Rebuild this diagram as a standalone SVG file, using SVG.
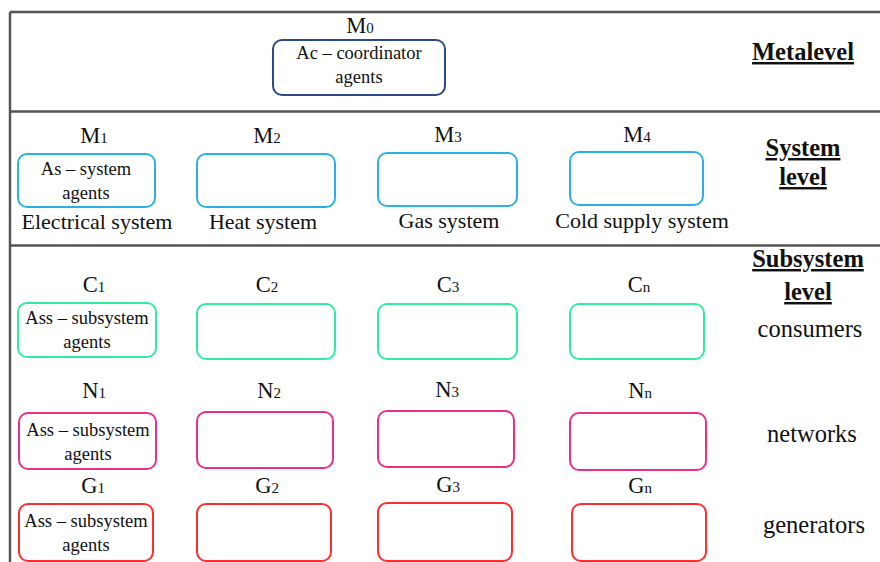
<svg xmlns="http://www.w3.org/2000/svg" width="880" height="562" viewBox="0 0 880 562">
<style>
text{fill:#111;text-anchor:middle}
.lbl{font-size:22.5px}
.sub{font-size:15px}
.bt{font-size:18.5px}
.rl{font-size:22px}
.hd{font-size:24.5px;font-weight:bold;text-decoration:underline}
.side{font-size:24.5px}
.frame{stroke:#555;stroke-width:2.5;fill:none}
rect{fill:#fff;stroke-width:2}
.mb{stroke:#2b4a86}
.sb{stroke:#2eaee6}
.cb{stroke:#30eca0}
.nb{stroke:#e8308a}
.gb{stroke:#ff2e2e}
</style>
<rect x="0" y="0" width="880" height="562" style="fill:#fff;stroke:none"/>
<g font-family="Liberation Serif, Times New Roman, serif">
<g id="frame">
<path class="frame" d="M10,12 H880 M10,111.5 H880 M10,245.5 H880 M10,12 V562"/>
</g>
<g id="metalevel">
<text class="hd" x="803" y="60">Metalevel</text>
</g>
<g id="M0">
<text class="lbl" x="360" y="33">M<tspan class="sub">0</tspan></text>
<rect class="mb" x="273" y="40" width="172" height="55" rx="9"/>
<text class="bt" x="359" y="59">Ac – coordinator</text>
<text class="bt" x="359" y="83">agents</text>
</g>
<g id="systemlevel">
<text class="hd" x="803" y="156">System</text>
<text class="hd" x="803" y="185">level</text>
</g>
<g id="M1">
<text class="lbl" x="94" y="143">M<tspan class="sub">1</tspan></text>
<rect class="sb" x="18" y="154" width="137" height="53" rx="9"/>
<text class="bt" x="86" y="175">As – system</text>
<text class="bt" x="86" y="199">agents</text>
<text class="rl" x="97" y="229">Electrical system</text>
</g>
<g id="M2">
<text class="lbl" x="267" y="143">M<tspan class="sub">2</tspan></text>
<rect class="sb" x="197" y="154" width="138" height="53" rx="9"/>
<text class="rl" x="263" y="229">Heat system</text>
</g>
<g id="M3">
<text class="lbl" x="448" y="142">M<tspan class="sub">3</tspan></text>
<rect class="sb" x="378" y="153" width="139" height="53" rx="9"/>
<text class="rl" x="449" y="228">Gas system</text>
</g>
<g id="M4">
<text class="lbl" x="637" y="142">M<tspan class="sub">4</tspan></text>
<rect class="sb" x="570" y="152" width="133" height="53" rx="9"/>
<text class="rl" x="642" y="228">Cold supply system</text>
</g>
<g id="subsystemlevel">
<text class="hd" x="808" y="267">Subsystem</text>
<text class="hd" x="808" y="300">level</text>
<text class="side" x="810" y="337">consumers</text>
<text class="side" x="812" y="442">networks</text>
<text class="side" x="814" y="533">generators</text>
</g>
<g id="C1">
<text class="lbl" x="94" y="292">C<tspan class="sub">1</tspan></text>
<rect class="cb" x="18" y="303" width="138" height="54" rx="9"/>
<text class="bt" x="87" y="324">Ass – subsystem</text>
<text class="bt" x="87" y="348">agents</text>
</g>
<g id="C2">
<text class="lbl" x="267" y="292">C<tspan class="sub">2</tspan></text>
<rect class="cb" x="197" y="304" width="138" height="55" rx="9"/>
</g>
<g id="C3">
<text class="lbl" x="448" y="292">C<tspan class="sub">3</tspan></text>
<rect class="cb" x="378" y="304" width="139" height="55" rx="9"/>
</g>
<g id="Cn">
<text class="lbl" x="639" y="292">C<tspan class="sub">n</tspan></text>
<rect class="cb" x="570" y="304" width="134" height="55" rx="9"/>
</g>
<g id="N1">
<text class="lbl" x="94" y="398">N<tspan class="sub">1</tspan></text>
<rect class="nb" x="19" y="413" width="137" height="56" rx="9"/>
<text class="bt" x="88" y="436">Ass – subsystem</text>
<text class="bt" x="88" y="460">agents</text>
</g>
<g id="N2">
<text class="lbl" x="269" y="398">N<tspan class="sub">2</tspan></text>
<rect class="nb" x="197" y="412" width="136" height="56" rx="9"/>
</g>
<g id="N3">
<text class="lbl" x="447" y="397">N<tspan class="sub">3</tspan></text>
<rect class="nb" x="378" y="411" width="136" height="56" rx="9"/>
</g>
<g id="Nn">
<text class="lbl" x="640" y="398">N<tspan class="sub">n</tspan></text>
<rect class="nb" x="570" y="413" width="136" height="57" rx="9"/>
</g>
<g id="G1">
<text class="lbl" x="93" y="493">G<tspan class="sub">1</tspan></text>
<rect class="gb" x="19" y="504" width="134" height="57" rx="9"/>
<text class="bt" x="86" y="527">Ass – subsystem</text>
<text class="bt" x="86" y="551">agents</text>
</g>
<g id="G2">
<text class="lbl" x="267" y="493">G<tspan class="sub">2</tspan></text>
<rect class="gb" x="197" y="504" width="134" height="57" rx="9"/>
</g>
<g id="G3">
<text class="lbl" x="448" y="492">G<tspan class="sub">3</tspan></text>
<rect class="gb" x="378" y="503" width="134" height="58" rx="9"/>
</g>
<g id="Gn">
<text class="lbl" x="640" y="493">G<tspan class="sub">n</tspan></text>
<rect class="gb" x="572" y="504" width="134" height="57" rx="9"/>
</g>
<g id="connectors"></g>
</g>
</svg>
